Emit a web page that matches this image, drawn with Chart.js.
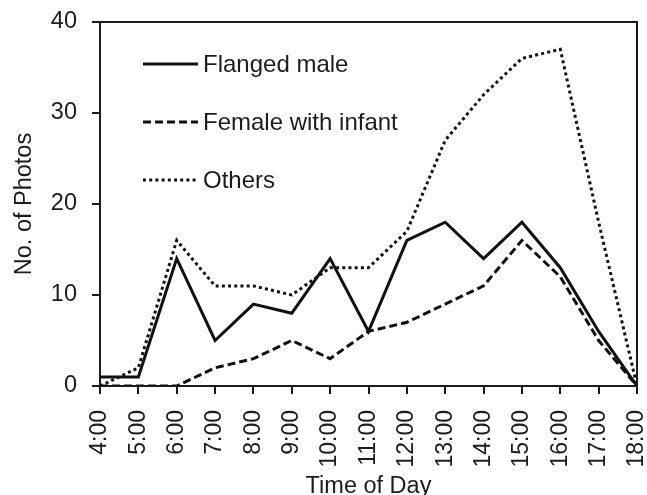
<!DOCTYPE html>
<html>
<head>
<meta charset="utf-8">
<script src="https://cdn.jsdelivr.net/npm/chart.js@4"></script>
<style>
  html, body { margin: 0; padding: 0; background: #fff; }
  #wrap { width: 647px; height: 495px; }
</style>
</head>
<body>
<div id="wrap"><canvas id="c" width="647" height="495"></canvas></div>
<script>
const categories = ["4:00","5:00","6:00","7:00","8:00","9:00","10:00","11:00","12:00","13:00","14:00","15:00","16:00","17:00","18:00"];
const flangedMale = [1, 1, 14, 5, 9, 8, 14, 6, 16, 18, 14, 18, 13, 6, 0];
const femaleWithInfant = [0, 0, 0, 2, 3, 5, 3, 6, 7, 9, 11, 16, 12, 5, 0];
const others = [0, 2, 16, 11, 11, 10, 13, 13, 17, 27, 32, 36, 37, 18, 0];
const seriesNames = ["Flanged male", "Female with infant", "Others"];
const yTicks = [0, 10, 20, 30, 40];
const xTitle = "Time of Day";
const yTitle = "No. of Photos";

const FONT = "'Liberation Sans', Arial, Helvetica, sans-serif";
const INK = '#1c1c1c';

const legendPlugin = {
  id: 'innerLegend',
  afterDatasetsDraw(chart) {
    const ctx = chart.ctx;
    const rows = [64, 122, 180];
    ctx.save();
    chart.data.datasets.forEach((ds, i) => {
      const y = rows[i];
      ctx.beginPath();
      ctx.strokeStyle = ds.borderColor;
      ctx.lineWidth = ds.borderWidth;
      ctx.setLineDash(ds.borderDash || []);
      ctx.lineCap = 'butt';
      ctx.moveTo(143, y);
      ctx.lineTo(198, y);
      ctx.stroke();
      ctx.setLineDash([]);
      ctx.fillStyle = INK;
      ctx.font = "24px " + FONT;
      ctx.textBaseline = 'middle';
      ctx.textAlign = 'left';
      ctx.fillText(ds.label, 203, y + 1);
    });
    const a = chart.chartArea;
    ctx.strokeStyle = INK;
    ctx.lineWidth = 2;
    ctx.beginPath();
    ctx.moveTo(a.left, a.top);
    ctx.lineTo(a.right, a.top);
    ctx.lineTo(a.right, a.bottom);
    ctx.stroke();
    ctx.restore();
  }
};

new Chart(document.getElementById('c'), {
  type: 'line',
  data: {
    labels: categories,
    datasets: [
      { label: seriesNames[0], data: flangedMale, borderColor: '#111', borderWidth: 3, borderDash: [], pointRadius: 0, tension: 0, fill: false },
      { label: seriesNames[1], data: femaleWithInfant, borderColor: '#111', borderWidth: 3, borderDash: [8, 4], pointRadius: 0, tension: 0, fill: false },
      { label: seriesNames[2], data: others, borderColor: '#111', borderWidth: 3, borderDash: [3, 3.2], pointRadius: 0, tension: 0, fill: false }
    ]
  },
  options: {
    responsive: false,
    animation: false,
    devicePixelRatio: 1,
    layout: { padding: { top: 22, right: 10, left: 0, bottom: 0 } },
    plugins: { legend: { display: false }, tooltip: { enabled: false } },
    scales: {
      x: {
        type: 'category',
        offset: false,
        grid: { drawOnChartArea: false, drawTicks: true, tickLength: 8, color: INK, lineWidth: 2 },
        border: { display: true, color: INK, width: 2 },
        ticks: { color: INK, font: { family: FONT, size: 23 }, minRotation: 90, maxRotation: 90, padding: 16, autoSkip: false },
        title: { display: true, text: xTitle, color: INK, font: { family: FONT, size: 23.5 }, padding: { top: 0, bottom: -6 } },
        afterFit(s) { s.height = 109; s.paddingLeft = 0; s.paddingRight = 0; }
      },
      y: {
        min: 0, max: 40,
        afterBuildTicks(s) { s.ticks = yTicks.map(v => ({ value: v })); },
        grid: { drawOnChartArea: false, drawTicks: true, tickLength: 8, color: INK, lineWidth: 2 },
        border: { display: true, color: INK, width: 2 },
        ticks: { color: INK, font: { family: FONT, size: 23.5 }, padding: 15 },
        title: { display: true, text: yTitle, color: INK, font: { family: FONT, size: 23.5 }, padding: { top: 10, bottom: 0 } },
        afterFit(s) { s.width = 100; s.paddingTop = 0; s.paddingBottom = 0; }
      }
    }
  },
  plugins: [legendPlugin]
});
</script>
</body>
</html>
